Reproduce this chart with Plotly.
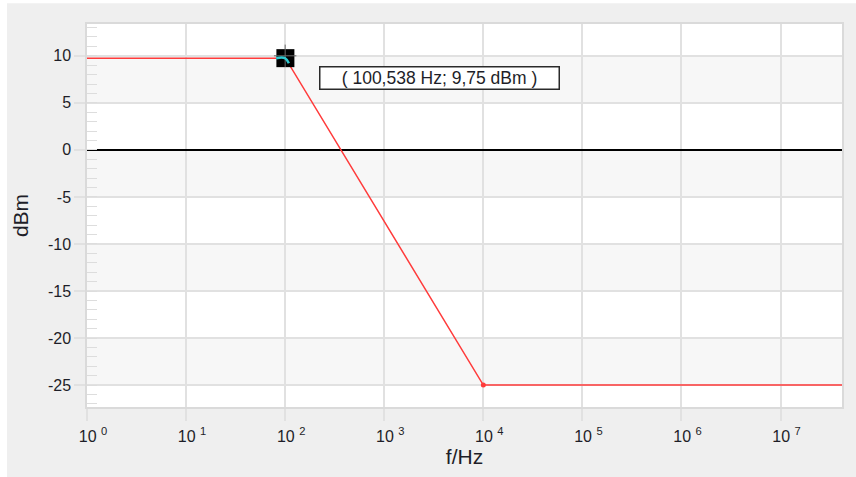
import plotly.graph_objects as go

# Frequency response (piecewise) in dBm versus frequency in Hz
freq_hz = [1, 100.538, 10000, 5.0e7]
level_dbm = [9.75, 9.75, -25, -25]

# Knee point where the roll-off ends
knee_hz = [10000]
knee_dbm = [-25]

# Cursor readout
cursor_hz = 100.538
cursor_dbm = 9.75

# Short highlighted segment of the curve at the cursor
hilite_hz = [81, 99.5, 109]
hilite_dbm = [9.75, 9.75, 9.2]

x_tickvals = [1, 10, 100, 1e3, 1e4, 1e5, 1e6, 1e7]
x_ticktext = ["10 <sup>%d</sup>" % i for i in range(8)]
y_tickvals = [-25, -20, -15, -10, -5, 0, 5, 10]
y_ticktext = [str(v) for v in y_tickvals]

FONT = "Liberation Sans"
GRID = "#E1E1E1"
TXT = "#1E1E28"

fig = go.Figure()

fig.add_trace(go.Scatter(x=freq_hz, y=level_dbm, mode="lines",
                         line=dict(color="#FF3B3B", width=1.5),
                         hoverinfo="skip", showlegend=False))
fig.add_trace(go.Scatter(x=knee_hz, y=knee_dbm, mode="markers",
                         marker=dict(color="#FF3B3B", size=5),
                         hoverinfo="skip", showlegend=False))
fig.add_trace(go.Scatter(x=[cursor_hz], y=[cursor_dbm], mode="markers",
                         marker=dict(symbol="square", size=18, color="black",
                                     line=dict(width=0)),
                         hoverinfo="skip", showlegend=False))
# grid crossing shown through the cursor box
fig.add_trace(go.Scatter(x=[100], y=[10], mode="markers",
                         marker=dict(symbol="cross-thin", size=16,
                                     line=dict(color="#6A6A6A", width=1)),
                         hoverinfo="skip", showlegend=False))
fig.add_trace(go.Scatter(x=hilite_hz, y=hilite_dbm, mode="lines",
                         line=dict(color="#2EC8D0", width=2.5, shape="spline"),
                         hoverinfo="skip", showlegend=False))

# alternating horizontal bands between major y gridlines
shapes = []
for i in range(len(y_tickvals) - 1):
    if i % 2 == 0:
        shapes.append(dict(type="rect", xref="paper", yref="y",
                           x0=0, x1=1, y0=y_tickvals[i], y1=y_tickvals[i + 1],
                           fillcolor="#F7F7F7", line=dict(width=0), layer="below"))
# white page edge on top and left
shapes.append(dict(type="rect", xref="paper", yref="paper", x0=-0.2, x1=1.1,
                   y0=1.0545, y1=1.2, fillcolor="white", line=dict(width=0),
                   layer="above"))
shapes.append(dict(type="rect", xref="paper", yref="paper", x0=-0.2, x1=-0.106,
                   y0=-0.3, y1=1.2, fillcolor="white", line=dict(width=0),
                   layer="above"))

label = "( %s Hz; %s dBm )" % (("%.3f" % cursor_hz).replace(".", ","),
                              ("%.2f" % cursor_dbm).replace(".", ","))

fig.update_layout(
    width=856, height=477,
    margin=dict(l=87, r=14, t=24, b=68, pad=0),
    paper_bgcolor="#EFEFEF",
    plot_bgcolor="white",
    font=dict(family=FONT, size=16, color=TXT),
    shapes=shapes,
    annotations=[dict(xref="paper", yref="paper", x=0.4669, y=0.8597,
                      xanchor="center", yanchor="middle", showarrow=False,
                      text=label, font=dict(family=FONT, size=17.5, color=TXT),
                      bgcolor="white", bordercolor="#2A2A2A", borderwidth=1.5,
                      borderpad=0, width=238, height=21)],
    xaxis=dict(type="log", range=[0, 7.62],
               tickvals=x_tickvals, ticktext=x_ticktext,
               showgrid=True, gridcolor=GRID, gridwidth=1.5,
               ticks="outside", ticklen=12, tickcolor=GRID, tickwidth=1.5,
               showline=True, linecolor="#DADADA", linewidth=1.5, mirror=True,
               zeroline=False, ticklabelstandoff=2, ticklabelshift=6,
               tickfont=dict(family=FONT, size=16, color=TXT),
               title=dict(text="f/Hz", font=dict(family=FONT, size=21, color=TXT),
                          standoff=5)),
    yaxis=dict(range=[-27.33, 13.38], tickvals=y_tickvals, ticktext=y_ticktext,
               showgrid=True, gridcolor=GRID, gridwidth=1.5,
               ticks="outside", ticklen=11, tickcolor=GRID, tickwidth=1.5,
               showline=True, linecolor="#DADADA", linewidth=1.5, mirror=True,
               zeroline=True, zerolinecolor="black", zerolinewidth=1.5,
               minor=dict(dtick=1, ticks="inside", ticklen=10,
                          tickcolor="#DDDDDD", tickwidth=1, showgrid=False),
               tickfont=dict(family=FONT, size=16, color=TXT),
               title=dict(text="dBm", font=dict(family=FONT, size=21, color=TXT),
                          standoff=14)),
)

fig.write_html("out.html")
